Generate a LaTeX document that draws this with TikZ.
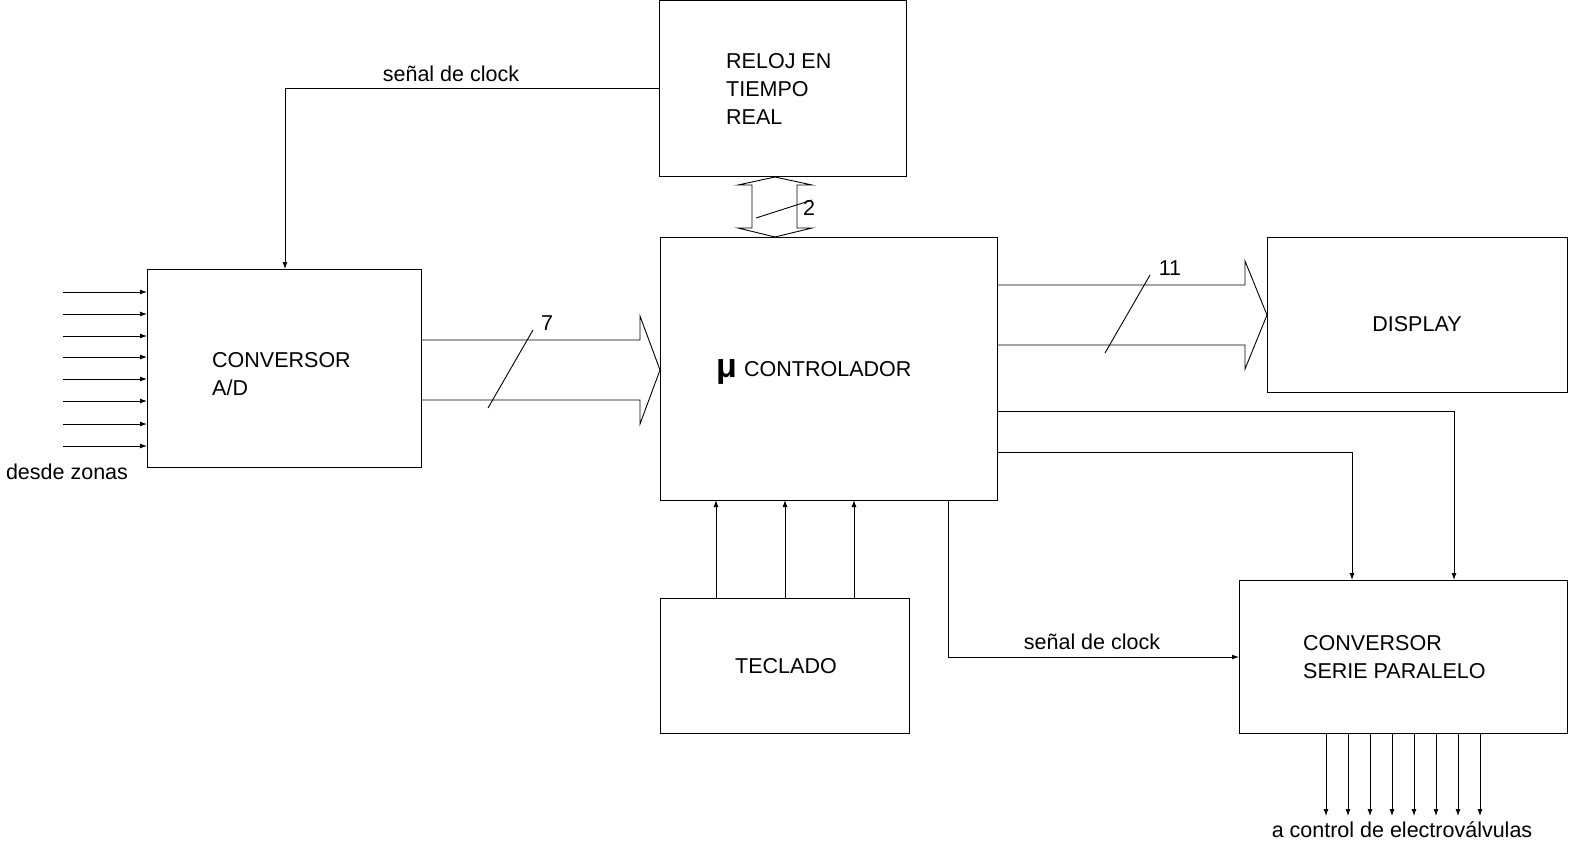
\documentclass[tikz,border=0pt]{standalone}
\usepackage{fontspec}
\setmainfont{Liberation Sans}
\usetikzlibrary{arrows.meta}
\begin{document}
\begin{tikzpicture}[x=1pt,y=-1pt,
  box/.style={draw,line width=0.9pt},
  ln/.style={line width=0.9pt},
  arr/.style={ln,-{Latex[length=7pt,width=5pt]}},
  txt/.style={font=\fontsize{21.5}{25}\selectfont,inner sep=0pt},
  bus/.style={ln}]
\useasboundingbox (0,0) rectangle (1585,846);
% boxes
\draw[box] (659,0) rectangle (906,176);
\coordinate (relojL) at (659,88);
\draw[box] (660,237) rectangle (997,500);
\draw[box] (147,269) rectangle (421,467);
\draw[box] (1267,237) rectangle (1567,392);
\draw[box] (660,598) rectangle (909,733);
\draw[box] (1239,580) rectangle (1567,733);
% texts
\node[txt,anchor=west,align=left] (treloj) at (726,89) {RELOJ EN\\[3pt]TIEMPO\\[3pt]REAL};
\node[txt,anchor=west,align=left] (tad) at (212,374) {CONVERSOR\\[3pt]A/D};
\node[txt,anchor=west] (tmu) at (716,372) {\fontsize{34}{34}\selectfont\bfseries μ};
\node[txt,anchor=west] (tctl) at (744,369) {CONTROLADOR};
\node[txt] (tdisp) at (1417,324) {DISPLAY};
\node[txt] (tecl) at (786,666) {TECLADO};
\node[txt,anchor=west,align=left] (tsp) at (1303,657) {CONVERSOR\\[3pt]SERIE PARALELO};
\node[txt] (clk1) at (451,74) {señal de clock};
\node[txt] (clk2) at (1092,642) {señal de clock};
\node[txt] (dz) at (67,472) {desde zonas};
\node[txt] (ace) at (1402,830) {a control de electroválvulas};
% clock lines
\draw[arr] (relojL) -- (285,88) -- (285,269);
\draw[arr] (948,500) -- (948,657) -- (1239,657);
% inputs
\foreach \y in {292,314,336,357,379,401,424,446}
  \draw[arr] (63,\y) -- (147,\y);
% outputs
\foreach \x in {1326,1348,1370,1392,1414,1436,1458,1480}
  \draw[arr] (\x,733) -- (\x,816);
% teclado
\foreach \x in {716,785,854}
  \draw[arr] (\x,598) -- (\x,500);
% micro to serie paralelo
\draw[arr] (997,411) -- (1454,411) -- (1454,580);
\draw[arr] (997,452) -- (1352,452) -- (1352,580);
% bus 7
\draw[bus] (421,340) -- (640,340) -- (640,316) -- (660,370) -- (640,424) -- (640,400) -- (421,400);
\draw[ln] (488,408) -- (533,330);
\node[txt] at (547,323) {7};
% bus 11
\draw[bus] (997,285) -- (1245,285) -- (1245,261) -- (1267,315) -- (1245,369) -- (1245,345) -- (997,345);
\draw[ln] (1105,353) -- (1150,275);
\node[txt] at (1170,268) {11};
% double arrow 2
\draw[bus] (752,185) -- (752,228) -- (738,228) -- (775,237) -- (812,228) -- (797,228) -- (797,185) -- (812,185) -- (775,177) -- (738,185) -- cycle;
\draw[ln] (756,218) -- (812,200);
\node[txt] at (809,208) {2};
\end{tikzpicture}
\end{document}
